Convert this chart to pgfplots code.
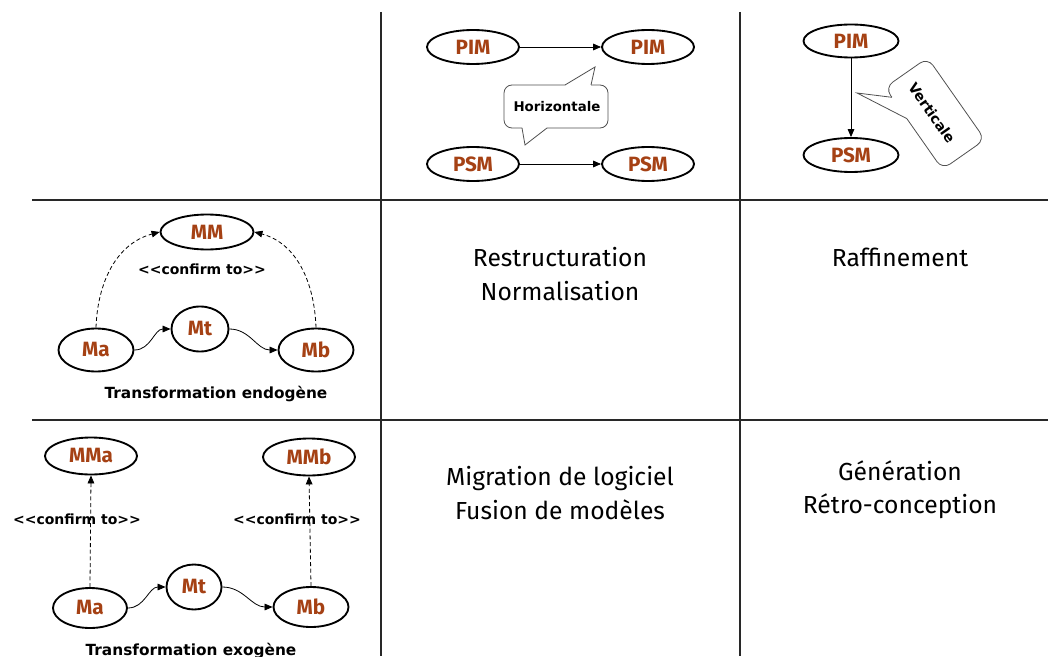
\documentclass[border=0pt]{standalone}
\usepackage{fontspec}
\setmainfont{Fira Sans}
\newfontfamily\dv{DejaVu Sans}
\usepackage{pgfplots}
\pgfplotsset{compat=1.18}
\usetikzlibrary{shapes.geometric,arrows.meta}
\definecolor{brn}{RGB}{165,65,20}
\definecolor{grd}{RGB}{40,40,40}
\definecolor{cgr}{RGB}{80,80,80}
\newcommand{\lab}{\fontsize{15.5}{17}\selectfont\bfseries}
\newcommand{\E}[6]{\node[ellipse, draw=black, line width=1.4pt, inner sep=0pt, text=brn, font=\lab, minimum width=#4*0.75pt, minimum height=#5*0.75pt] (#1) at (axis cs:#2,#3) {#6};}
\begin{document}
\begin{tikzpicture}[
  arr/.style={-{Triangle[length=6pt,width=5pt]}, line width=0.6pt},
  dsh/.style={-{Triangle[length=6pt,width=5pt]}, line width=0.6pt, dash pattern=on 3pt off 2pt}]
\begin{axis}[x=0.75pt, y=0.75pt, xmin=0, xmax=1048, ymin=0, ymax=656, y dir=reverse,
  axis lines=none, scale only axis, clip=true]
\path (axis cs:0,0) rectangle (axis cs:1048,656);
% grid
\addplot[grd, line width=1.3pt] coordinates {(381,12) (381,656)};
\addplot[grd, line width=1.3pt] coordinates {(740,12) (740,656)};
\addplot[grd, line width=1.3pt] coordinates {(32,200) (1048,200)};
\addplot[grd, line width=1.3pt] coordinates {(32,420) (1048,420)};

% cell texts
\node[font=\fontsize{18.5}{25.5}\selectfont, align=center] at (axis cs:560,274) {Restructuration\\Normalisation};
\node[font=\fontsize{18.5}{25.5}\selectfont, align=center] at (axis cs:900,257) {Raffinement};
\node[font=\fontsize{18.5}{25}\selectfont, align=center] at (axis cs:560,493) {Migration de logiciel\\Fusion de modèles};
\node[font=\fontsize{18.5}{25}\selectfont, align=center] at (axis cs:900,490) {Génération\\Rétro-conception};

% top middle
\E{pimA}{473}{47}{92}{34}{PIM}
\E{pimB}{648}{47}{92}{34}{PIM}
\E{psmA}{473}{164}{92}{34}{PSM}
\E{psmB}{648}{164}{92}{34}{PSM}
\draw[arr] (pimA.east) -- (pimB.west);
\draw[arr] (psmA.east) -- (psmB.west);
\draw[cgr, line width=0.6pt, rounded corners=6pt] (axis cs:565,85) -- (axis cs:504,85) -- (axis cs:504,128) -- (axis cs:522,128);
\draw[cgr, line width=0.6pt] (axis cs:522,128) -- (axis cs:525,145) -- (axis cs:547,128);
\draw[cgr, line width=0.6pt, rounded corners=6pt] (axis cs:547,128) -- (axis cs:608,128) -- (axis cs:608,85) -- (axis cs:591,85);
\draw[cgr, line width=0.6pt] (axis cs:591,85) -- (axis cs:595,67) -- (axis cs:565,85);
\node[font=\dv\bfseries\fontsize{10}{11}\selectfont] at (axis cs:557,107) {Horizontale};

% top right
\E{pimC}{851}{41}{95}{33}{PIM}
\E{psmC}{851}{155}{95}{34}{PSM}
\draw[arr] (pimC.south) -- (psmC.north);
\draw[cgr, line width=0.6pt, rounded corners=7pt] (axis cs:891.9,97.3) -- (axis cs:885,87.5) -- (axis cs:927.6,57.7) -- (axis cs:985,139.6) -- (axis cs:942.4,169.4) -- (axis cs:906.8,118.6);
\draw[cgr, line width=0.6pt] (axis cs:906.8,118.6) -- (axis cs:857,93) -- (axis cs:891.9,97.3);
\node[font=\dv\bfseries\fontsize{10.5}{11}\selectfont, rotate=-55] at (axis cs:932,113) {Verticale};

% middle left
\E{mm}{207}{232}{93}{35}{MM}
\E{ma1}{96}{350}{75}{43}{Ma}
\E{mt1}{200}{329}{57}{45}{Mt}
\E{mb1}{316}{350}{75}{43}{Mb}
\draw[arr] (ma1.east) to[out=0,in=180] (mt1.west);
\draw[arr] (mt1.east) to[out=0,in=180] (mb1.west);
\draw[dsh] (ma1.north) to[out=88,in=195] (mm.west);
\draw[dsh] (mb1.north) to[out=92,in=-15] (mm.east);
\node[font=\dv\bfseries\fontsize{10.5}{11}\selectfont] at (axis cs:202,269) {<<confirm to>>};
\node[font=\dv\bfseries\fontsize{11.5}{13}\selectfont] at (axis cs:216,394) {Transformation endogène};

% bottom left
\E{mma}{91}{456}{92}{37}{MMa}
\E{mmb}{309}{457}{92}{37}{MMb}
\E{ma2}{90}{608}{74}{40}{Ma}
\E{mt2}{194}{587}{55}{45}{Mt}
\E{mb2}{311}{607}{75}{40}{Mb}
\node[font=\dv\bfseries\fontsize{10.5}{11}\selectfont] at (axis cs:77,519) {<<confirm to>>};
\node[font=\dv\bfseries\fontsize{10.5}{11}\selectfont] at (axis cs:297,519) {<<confirm to>>};
\draw[dsh] (ma2.north) -- (mma.south);
\draw[dsh] (mb2.north) -- (mmb.south);
\draw[arr] (ma2.east) to[out=0,in=180] (mt2.west);
\draw[arr] (mt2.east) to[out=0,in=180] (mb2.west);
\node[font=\dv\bfseries\fontsize{11.5}{13}\selectfont] at (axis cs:191,651) {Transformation exogène};
\end{axis}
\end{tikzpicture}
\end{document}
